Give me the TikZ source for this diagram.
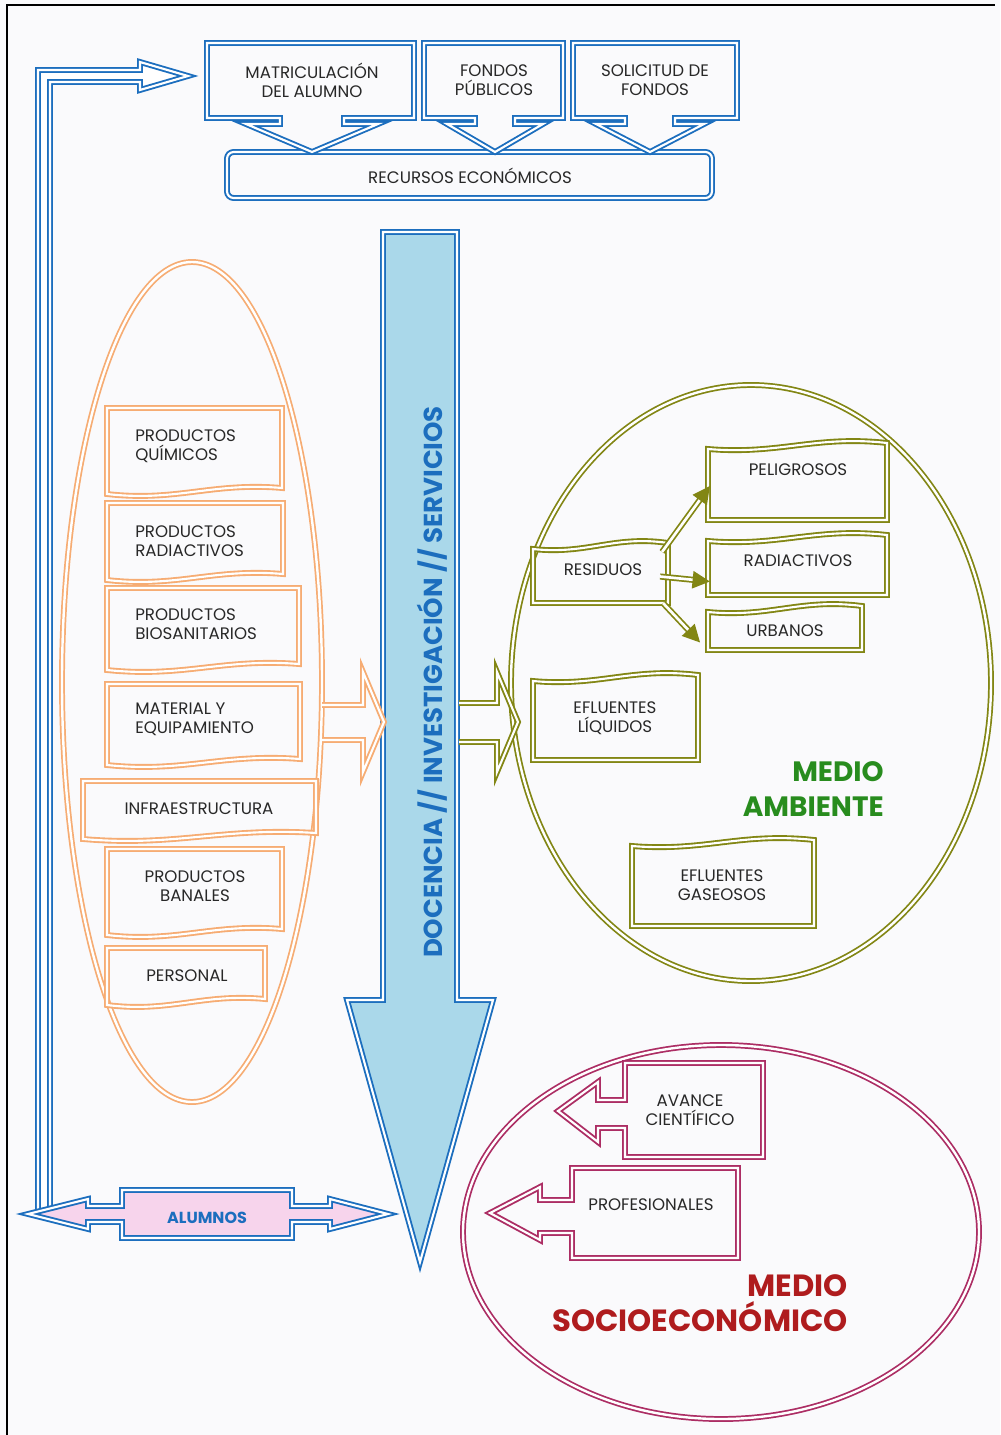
\documentclass[tikz,border=0pt]{standalone}
\usepackage{fontspec}
\setmainfont{Poppins}
\usetikzlibrary{arrows.meta,calc}
\definecolor{cblue}{RGB}{28,110,190}
\definecolor{lblue}{RGB}{170,216,234}
\definecolor{corange}{RGB}{246,172,115}
\definecolor{colive}{RGB}{130,134,20}
\definecolor{cmag}{RGB}{172,45,100}
\definecolor{cgreen}{RGB}{40,140,30}
\definecolor{cred}{RGB}{175,28,30}
\definecolor{cpink}{RGB}{247,212,236}
\definecolor{ctext}{RGB}{40,40,40}
\definecolor{paper}{RGB}{250,250,252}
\newcommand\orbox[4]{\draw[dbl,draw=corange] (#1,#2) -- (#3,#2) -- (#3,{#4-9}) .. controls ({#3-0.4*(#3-#1)},{#4-15}) and ({#1+0.4*(#3-#1)},{#4+5}) .. (#1,{#4-3}) -- cycle;}
\newcommand\grbox[4]{\draw[dbl,draw=colive] (#1,#4) -- (#3,#4) -- (#3,{#2+3}) .. controls ({#3-0.4*(#3-#1)},{#2-5}) and ({#1+0.4*(#3-#1)},{#2+15}) .. (#1,{#2+9}) -- cycle;}
\begin{document}
\begin{tikzpicture}[x=0.75pt,y=-0.75pt,
  dbl/.style={line width=1.4pt, double=white, double distance=1.6pt, line join=miter},
  ell/.style={line width=1.3pt, double=white, double distance=1.8pt},
  txt/.style={text=ctext, font=\fontsize{12.5}{14.3}\selectfont, inner sep=0pt},
  boxnode/.style={inner sep=0pt, minimum width=#1},
  garrow/.style={draw=colive, line width=1.3pt, double=white, double distance=2pt, -{Triangle[length=13pt,width=13pt]}}]
\useasboundingbox (0,0) rectangle (1000,1435);
\fill[paper] (0,0) rectangle (1000,1435);
\draw[black, line width=1.2pt] (7,1435) -- (7,5) -- (995,5);

% ---- ellipses
\draw[ell, draw=corange] (192,682) ellipse [x radius=130, y radius=420];
\draw[ell, draw=colive] (751,683) ellipse [x radius=240, y radius=298];
\draw[ell, draw=cmag] (721,1232) ellipse [x radius=258, y radius=187];

% ---- top: funding sources
\draw[dbl, draw=cblue, rounded corners=5pt] (227,152) rectangle (712,198);
\node[txt] (rec) at (470,176) {RECURSOS ECONÓMICOS};
\draw[dbl, draw=cblue] (207,43) -- (414,43) -- (414,118) -- (344,118) -- (344,124) -- (378,124) -- (312,152) -- (246,124) -- (280,124) -- (280,118) -- (207,118) -- cycle;
\draw[dbl, draw=cblue] (424,43) -- (563,43) -- (563,118) -- (515,118) -- (515,124) -- (543,124) -- (495,152) -- (447,124) -- (475,124) -- (475,118) -- (424,118) -- cycle;
\draw[dbl, draw=cblue] (573,43) -- (737,43) -- (737,118) -- (675,118) -- (675,124) -- (704,124) -- (650,152) -- (596,124) -- (625,124) -- (625,118) -- (573,118) -- cycle;
\node[txt, align=center] (mat) at (312,80) {MATRICULACIÓN\\DEL ALUMNO};
\node[txt, align=center] (fon) at (494,80) {FONDOS\\PÚBLICOS};
\node[txt, align=center] (sol) at (655,80) {SOLICITUD DE\\FONDOS};

% ---- L connector from ALUMNOS to MATRICULACION
\coordinate (Lbot) at (44,1212);
\coordinate (Ltip) at (188,76);
\draw[dbl, draw=cblue, fill=white] ($(Lbot)+(-6,0)$) -- (38,70) -- (140,70) -- (140,62) -- (Ltip) -- (140,90) -- (140,82) -- (50,82) -- ($(Lbot)+(6,0)$);

% ---- central arrow
\draw[dbl, draw=cblue, fill=lblue] (383,232) -- (457,232) -- (457,1000) -- (493,1000) -- (420,1262) -- (347,1000) -- (383,1000) -- cycle;
\node[rotate=90, text=cblue, font=\bfseries\fontsize{19.5}{19.5}\selectfont, inner sep=0pt] (doc) at (432,682) {DOCENCIA // INVESTIGACIÓN // SERVICIOS};

% ---- ALUMNOS double arrow
\draw[dbl, draw=cblue, fill=cpink] (28,1214) -- (88,1199) -- (88,1206) -- (122,1206) -- (122,1190) -- (292,1190) -- (292,1206) -- (330,1206) -- (330,1199) -- (388,1214) -- (330,1229) -- (330,1222) -- (292,1222) -- (292,1238) -- (122,1238) -- (122,1222) -- (88,1222) -- (88,1229) -- cycle;
\node[text=cblue, font=\bfseries\fontsize{12}{13}\selectfont, inner sep=0pt] (alu) at (207,1218) {ALUMNOS};

% ---- orange boxes (inputs)
\orbox{107}{408}{282}{497}
\orbox{107}{503}{283}{583}
\orbox{107}{588}{299}{673}
\orbox{107}{684}{300}{768}
\orbox{83}{781}{316}{842}
\orbox{107}{849}{282}{938}
\orbox{107}{948}{265}{1008}
\node[txt, align=left, anchor=west] (qui) at (135,446) {PRODUCTOS\\QUÍMICOS};
\node[txt, align=left, anchor=west] (rad1) at (135,541) {PRODUCTOS\\RADIACTIVOS};
\node[txt, align=left, anchor=west] (bio) at (135,624) {PRODUCTOS\\BIOSANITARIOS};
\node[txt, align=left, anchor=west] (mate) at (135,719) {MATERIAL Y\\EQUIPAMIENTO};
\node[txt] (inf) at (199,809) {INFRAESTRUCTURA};
\node[txt, align=center] (ban) at (195,886) {PRODUCTOS\\BANALES};
\node[txt] (per) at (187,976) {PERSONAL};

% ---- orange arrow into the central arrow
\draw[dbl, draw=corange] (322,705) -- (363,705) -- (363,672) -- (384,722) -- (363,772) -- (363,740) -- (322,740);
% ---- olive arrow out of the central arrow
\draw[dbl, draw=colive] (459,703) -- (497,703) -- (497,672) -- (518,722) -- (497,772) -- (497,742) -- (459,742);

% ---- olive boxes (environment)
\grbox{708}{440}{887}{520}
\grbox{708}{532}{887}{595}
\grbox{708}{603}{862}{650}
\grbox{533}{540}{668}{603}
\grbox{533}{672}{698}{760}
\grbox{632}{837}{814}{926}
\node[boxnode=134pt, minimum height=60pt] (pel) at (797.5,480) {};
\node[boxnode=134pt, minimum height=47pt] (rad) at (797.5,563.5) {};
\node[boxnode=115pt, minimum height=35pt] (urb) at (785,626.5) {};
\node[boxnode=101pt, minimum height=47pt] (res) at (600.5,571.5) {};
\node[txt] at (798,470) {PELIGROSOS};
\node[txt] at (798,561) {RADIACTIVOS};
\node[txt] at (785,631) {URBANOS};
\node[txt] at (603,570) {RESIDUOS};
\node[txt, align=center] (liq) at (615,718) {EFLUENTES\\LÍQUIDOS};
\node[txt, align=center] (gas) at (722,885) {EFLUENTES\\GASEOSOS};
\draw[garrow] ($(res.north east)+(-6,12)$) -- ($(pel.west)+(2,6)$);
\draw[garrow] ($(res.east)+(-8,5)$) -- ($(rad.west)+(2,18)$);
\draw[garrow] ($(res.south east)+(-5,0)$) -- ($(urb.west)+(-8,16)$);
\node[text=cgreen, font=\bfseries\fontsize{21}{26.5}\selectfont, align=right, anchor=east, inner sep=0pt] (ma) at (884,789) {MEDIO\\AMBIENTE};

% ---- magenta callouts (socio-economic)
\draw[dbl, draw=cmag] (625,1063) -- (763,1063) -- (763,1157) -- (625,1157) -- (625,1128) -- (598,1128) -- (598,1142) -- (558,1111) -- (598,1082) -- (598,1100) -- (625,1100) -- cycle;
\draw[dbl, draw=cmag] (572,1168) -- (738,1168) -- (738,1258) -- (572,1258) -- (572,1233) -- (540,1233) -- (540,1240) -- (490,1213) -- (540,1187) -- (540,1200) -- (572,1200) -- cycle;
\node[txt, align=center] (ava) at (690,1110) {AVANCE\\CIENTÍFICO};
\node[txt] (pro) at (651,1205) {PROFESIONALES};
\node[text=cred, font=\bfseries\fontsize{23}{26.5}\selectfont, align=right, anchor=east, inner sep=0pt] (ms) at (848,1303) {MEDIO\\SOCIOECONÓMICO};
\end{tikzpicture}
\end{document}
